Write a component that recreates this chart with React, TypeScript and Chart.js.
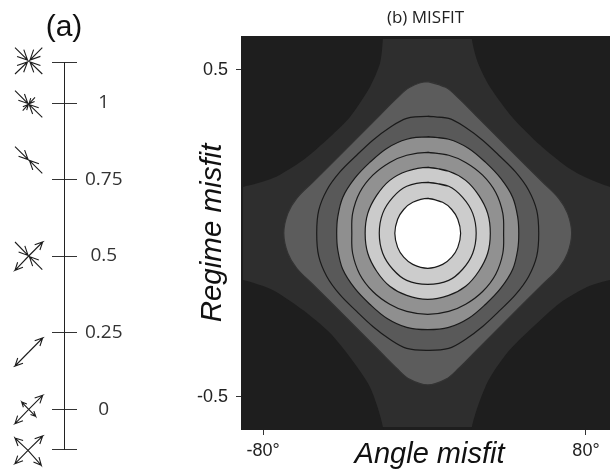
import React, { useEffect, useRef } from "react";
import { Chart, registerables } from "chart.js";

Chart.register(...registerables);

// ---------- panel (a): regime scale ----------
const regimeTickValues = [1.134, 1, 0.75, 0.5, 0.25, 0, -0.132];
const regimeTickLabels = ["", "1", "0.75", "0.5", "0.25", "0", ""];

// arrows: tail x, tail y, tip x, tip y, head length (in diagram units)
const glyphTop = [
  [15, 47.7, 27.5, 60, 11], [42.3, 47.7, 30, 60, 11],
  [15, 74, 27.5, 62, 11], [42.3, 74, 30, 62, 11],
];
const glyphOne = [
  [15, 90.7, 27.8, 103.4, 10], [42.3, 117.3, 29.2, 104.6, 10],
  [35, 97.3, 29, 103.8, 6], [22.7, 110.7, 28.4, 104.4, 6],
];
const glyphCompress = [
  [15, 146.7, 28, 159.5, 10], [42.3, 173.3, 29.5, 160.5, 10],
];
const glyphMixed = [
  [15, 242, 28, 255.4, 10], [42.3, 269.7, 29.4, 256.6, 10],
  [28.7, 256, 42.7, 242, 8.5], [28.7, 256, 15, 270.3, 8.5],
];
const glyphExtend = [
  [28.8, 352, 42.7, 338, 8.5], [28.8, 352, 15, 366, 8.5],
];
const glyphZero = [
  [28.7, 409.3, 42.7, 395.3, 8.5], [28.7, 409.3, 15, 423.7, 8.5],
  [28.7, 409.3, 21.7, 402, 5.5], [28.7, 409.3, 35.7, 416.3, 5.5],
];
const glyphBottom = [
  [28, 450.3, 42.7, 436, 8.5], [28, 450.3, 15, 463.7, 8.5],
  [28, 450.3, 15, 438, 8.5], [28, 450.3, 41.3, 465.3, 8.5],
];
const allGlyphs = [glyphTop, glyphOne, glyphCompress, glyphMixed, glyphExtend, glyphZero, glyphBottom];

// ---------- panel (b): misfit contours ----------
const contourCentre = [1.6, 0];
// one quadrant of each contour: [angle offset, regime offset]
const contourA = [[0, 0.464], [8.9, 0.447], [15.4, 0.413], [23.8, 0.361], [32.2, 0.309], [40.1, 0.26], [48.5, 0.208], [57, 0.156], [64.9, 0.107], [69.3, 0.061], [71.3, 0]];
const contourB = [[0, 0.358], [10.4, 0.352], [18.8, 0.324], [27.2, 0.285], [35.2, 0.239], [43.6, 0.187], [50, 0.132], [54, 0.07], [55, 0]];
const contourC = [[0, 0.295], [10.4, 0.288], [20.3, 0.26], [28.7, 0.217], [36.2, 0.168], [42.1, 0.11], [44.6, 0.049], [45.1, 0]];
const contourD = [[0, 0.248], [10.4, 0.239], [18.8, 0.217], [27.2, 0.178], [33.7, 0.125], [37.2, 0.061], [37.6, 0]];
const contourE = [[0, 0.202], [10.4, 0.19], [18.8, 0.162], [25.3, 0.116], [29.7, 0.061], [31, 0]];
const contourF = [[0, 0.156], [10.4, 0.144], [17.3, 0.11], [22.3, 0.061], [24, 0]];
const contourG = [[0, 0.107], [7.4, 0.095], [11.9, 0.073], [14.9, 0.043], [16.3, 0]];

const cornerTopLeft = [[-20.4, 0.72], [-20.6, 0.598], [-22, 0.521], [-27, 0.448], [-36.9, 0.356], [-46.8, 0.295], [-60.2, 0.224], [-75, 0.169], [-89.9, 0.142], [-105, 0.13], [-105, 0.72]];
const cornerTopRight = [[23.2, 0.72], [23.4, 0.598], [26.5, 0.521], [32.4, 0.448], [43.8, 0.353], [57.2, 0.27], [70.6, 0.203], [80.5, 0.169], [91.9, 0.142], [105, 0.13], [105, 0.72]];
const cornerBottomLeft = [[-105, -0.13], [-89.9, -0.143], [-75, -0.174], [-60.2, -0.235], [-46.8, -0.305], [-36.9, -0.379], [-27, -0.47], [-20.6, -0.593], [-20.4, -0.72], [-105, -0.72]];
const cornerBottomRight = [[105, -0.13], [91.9, -0.143], [80.5, -0.164], [67.1, -0.213], [53.7, -0.287], [40.9, -0.366], [31, -0.458], [23.5, -0.593], [23.3, -0.72], [105, -0.72]];
const innerField = [[-89.9, 0.595], [92, 0.595], [92, -0.593], [-89.9, -0.593]];
const outerField = [[-91, 0.604], [92, 0.604], [92, -0.602], [-91, -0.602]];

const angleTicks = [-80, 80];
const angleTickLabels = ["-80°", "80°"];
const regimeFitTicks = [0.5, -0.5];
const regimeFitLabels = ["0.5", "-0.5"];

const SANS = "'Liberation Sans', Arial, sans-serif";
const HUMANIST = "'Open Sans', 'Noto Sans', sans-serif";

function arrowPath([x1, y1, x2, y2, h]: number[]) {
  const a = Math.atan2(y1 - y2, x1 - x2);
  const s = 0.45;
  const w1 = { x: x2 + h * Math.cos(a + s), y: y2 + h * Math.sin(a + s) };
  const w2 = { x: x2 + h * Math.cos(a - s), y: y2 + h * Math.sin(a - s) };
  const tip = { x: x2, y: y2 };
  return [{ x: x1, y: y1 }, tip, w1, tip, w2];
}

function ring(q: number[][]) {
  const [cx, cy] = contourCentre;
  const out: { x: number; y: number }[] = [];
  q.forEach(([a, b]) => out.push({ x: cx + a, y: cy + b }));
  q.slice(0, -1).reverse().forEach(([a, b]) => out.push({ x: cx + a, y: cy - b }));
  q.slice(1).forEach(([a, b]) => out.push({ x: cx - a, y: cy - b }));
  q.slice(1, -1).reverse().forEach(([a, b]) => out.push({ x: cx - a, y: cy + b }));
  out.push(out[0], out[1]);
  return out;
}

const closed = (p: number[][]) => [...p, p[0]].map(([x, y]) => ({ x, y }));

function contourSet(label: string, q: number[][], fillColor: string, line: string) {
  return {
    label,
    data: ring(q),
    showLine: true,
    fill: "shape",
    backgroundColor: fillColor,
    borderColor: line,
    borderWidth: 1.2,
    tension: 0.36,
    pointRadius: 0,
  };
}

function regionSet(label: string, p: number[][], fillColor: string, tension: number) {
  return {
    label,
    data: closed(p),
    showLine: true,
    fill: "shape",
    backgroundColor: fillColor,
    borderColor: fillColor,
    borderWidth: 0,
    tension,
    pointRadius: 0,
  };
}

export default function App() {
  const leftRef = useRef<HTMLCanvasElement>(null);
  const rightRef = useRef<HTMLCanvasElement>(null);

  useEffect(() => {
    const glyphDatasets = allGlyphs.flat().map((arrow, i) => ({
      label: `arrow ${i}`,
      data: arrowPath(arrow),
      showLine: true,
      borderColor: "#1c1c1c",
      borderWidth: 1.1,
      pointRadius: 0,
      tension: 0,
      clip: false,
      xAxisID: "x",
      yAxisID: "gy",
    }));

    const setRegimeTicks = (s: any) => {
      s.ticks = regimeTickValues.map((value) => ({ value }));
    };

    const left = new Chart(leftRef.current!, {
      type: "scatter",
      data: { datasets: glyphDatasets as any },
      options: {
        animation: false,
        responsive: false,
        events: [],
        layout: { padding: { top: 0, bottom: 22.5, left: 0, right: 0 } },
        plugins: {
          legend: { display: false },
          tooltip: { enabled: false },
          title: {
            display: true,
            text: "(a)",
            color: "#111111",
            font: { family: SANS, size: 30, weight: "normal", lineHeight: 1.2 },
            padding: { top: 10, bottom: 16 },
          },
        },
        scales: {
          x: { type: "linear", min: 0, max: 77, display: false },
          gy: { type: "linear", min: 62, max: 449.5, reverse: true, display: false },
          y: {
            type: "linear",
            position: "right",
            min: -0.132,
            max: 1.134,
            afterBuildTicks: setRegimeTicks,
            afterFit: (s: any) => {
              s.width = 51;
            },
            grid: { display: false, drawTicks: false },
            border: { display: false },
            ticks: {
              autoSkip: false,
              crossAlign: "center",
              padding: 8,
              color: "#333333",
              font: { family: HUMANIST, size: 19 },
              callback: (v: any) => {
                const i = regimeTickValues.indexOf(v);
                return i >= 0 ? regimeTickLabels[i] : "";
              },
            },
          },
          yMarks: {
            type: "linear",
            position: { x: 77 } as any,
            min: -0.132,
            max: 1.134,
            afterBuildTicks: setRegimeTicks,
            grid: { drawOnChartArea: false, drawTicks: true, tickLength: 25, color: "#333333", lineWidth: 1 },
            border: { display: false },
            ticks: { display: false },
          },
          yLine: {
            type: "linear",
            position: { x: 64 } as any,
            min: -0.132,
            max: 1.134,
            grid: { display: false, drawOnChartArea: false, drawTicks: false },
            border: { display: true, color: "#222222", width: 1 },
            ticks: { display: false },
          },
        },
      } as any,
    });

    const right = new Chart(rightRef.current!, {
      type: "scatter",
      data: {
        datasets: [
          contourSet("level 7", contourG, "#ffffff", "#1a1a1a"),
          contourSet("level 6", contourF, "#cccccc", "#1a1a1a"),
          contourSet("level 5", contourE, "#cbcbcb", "#1a1a1a"),
          contourSet("level 4", contourD, "#919191", "#1a1a1a"),
          contourSet("level 3", contourC, "#8f8f8f", "#1a1a1a"),
          contourSet("level 2", contourB, "#595959", "#1a1a1a"),
          contourSet("level 1", contourA, "#5c5c5c", "#333333"),
          regionSet("corner top left", cornerTopLeft, "#1e1e1e", 0.25),
          regionSet("corner top right", cornerTopRight, "#1e1e1e", 0.25),
          regionSet("corner bottom left", cornerBottomLeft, "#1e1e1e", 0.25),
          regionSet("corner bottom right", cornerBottomRight, "#1e1e1e", 0.25),
          regionSet("field", innerField, "#2e2e2e", 0),
          regionSet("frame", outerField, "#1e1e1e", 0),
        ] as any,
      },
      options: {
        animation: false,
        responsive: false,
        events: [],
        layout: { padding: 0 },
        plugins: {
          legend: { display: false },
          tooltip: { enabled: false },
          title: {
            display: true,
            fullSize: false,
            text: "(b) MISFIT",
            color: "#222222",
            font: { family: HUMANIST, size: 17, weight: "normal", lineHeight: 1 },
            padding: { top: 10, bottom: 9 },
          },
        },
        scales: {
          x: {
            type: "linear",
            min: -90.9,
            max: 91.9,
            afterBuildTicks: (s: any) => {
              s.ticks = angleTicks.map((value) => ({ value }));
            },
            afterFit: (s: any) => {
              s.height = 42;
            },
            grid: { drawOnChartArea: false, tickLength: 5, color: "#333333" },
            border: { display: false },
            ticks: {
              autoSkip: false,
              maxRotation: 0,
              padding: 5,
              color: "#222222",
              font: { family: SANS, size: 18 },
              callback: (v: any) => angleTickLabels[angleTicks.indexOf(v)] ?? "",
            },
            title: {
              display: true,
              text: " Angle misfit",
              color: "#111111",
              font: { family: SANS, size: 29, style: "italic", weight: "normal" },
              padding: 0,
            },
          },
          y: {
            type: "linear",
            min: -0.602,
            max: 0.604,
            afterBuildTicks: (s: any) => {
              s.ticks = regimeFitTicks.map((value) => ({ value }));
            },
            afterFit: (s: any) => {
              s.width = 51;
            },
            grid: { drawOnChartArea: false, tickLength: 5, color: "#333333" },
            border: { display: false },
            ticks: {
              autoSkip: false,
              padding: 8,
              color: "#222222",
              font: { family: SANS, size: 18 },
              callback: (v: any) => regimeFitLabels[regimeFitTicks.indexOf(v)] ?? "",
            },
            title: {
              display: true,
              text: "Regime misfit",
              color: "#111111",
              font: { family: SANS, size: 29.5, style: "italic", weight: "normal" },
              padding: { top: 5, bottom: 5 },
            },
          },
        },
      } as any,
    });

    return () => {
      left.destroy();
      right.destroy();
    };
  }, []);

  return (
    <div style={{ position: "fixed", left: 0, top: 0, width: 610, height: 472, background: "#ffffff" }}>
      <canvas ref={leftRef} width={128} height={472} style={{ position: "absolute", left: 0, top: 0 }} />
      <canvas ref={rightRef} width={420} height={472} style={{ position: "absolute", left: 190, top: 0 }} />
    </div>
  );
}
